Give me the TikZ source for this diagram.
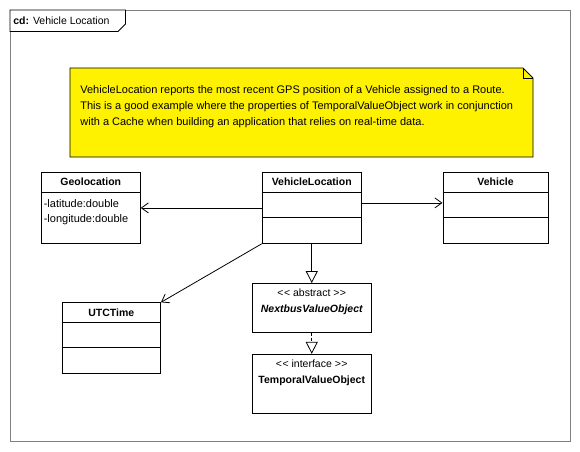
\documentclass[tikz,border=0pt]{standalone}
\usepackage{fontspec}
\setmainfont{Liberation Sans}
\usepackage{tikz}
\usetikzlibrary{positioning,%
  arrows.meta}

\begin{document}
\begin{tikzpicture}
                    [x=1pt, y=-1pt,
                    cls/.style={rectangle,
                        draw, fill=white,
                        inner sep=0pt, anchor=north west},
                    title/.style={font=\fontsize{10.5}{13}\selectfont\bfseries},
                    attr/.style={anchor=west, inner sep=0pt,
                        font=\fontsize{11}{13}\selectfont},
                    assoc/.style={-{Straight Barb[length=7pt,width=10pt]}},
                    inherit/.style={-{Triangle[open,length=12pt,width=12pt]}},
                    realize/.style={inherit, dash pattern=on 3pt off 2pt},
                    thick, font=\fontsize{10.5}{13}\selectfont]

                    \useasboundingbox (0,0) rectangle (580,451);
                    \draw[gray] (10,10) rectangle (570,441);
                    \draw[fill=white] (10,10) -- (125.5,10) -- (125.5,24)
                        -- (118,31.5) -- (10,31.5) -- cycle;
                    \node[anchor=west, inner sep=0pt] (tab) at (13,20.5)
                        {\textbf{cd:} Vehicle Location};

                    \draw[fill=yellow] (70,68) -- (523,68) -- (533,78)
                        -- (533,157) -- (70,157) -- cycle;
                    \draw (523,68) -- (523,78) -- (533,78);
                    \node[anchor=north west, align=left, inner sep=0pt,
                        font=\fontsize{11}{15.7}\selectfont] (notetext) at (80,85.5)
                        {VehicleLocation reports the most recent GPS position of a Vehicle assigned to a Route.\\
                         This is a good example where the properties of TemporalValueObject work in conjunction\\
                         with a Cache when building an application that relies on real-time data.};

                    \node[cls, minimum width=99.3pt, minimum height=71pt] (vl)
                        at (261.7,172) {};
                    \node[cls, minimum width=99pt, minimum height=71pt,
                        left=121pt of vl] (geo) {};
                    \node[cls, minimum width=105.3pt, minimum height=71pt,
                        right=80.7pt of vl] (veh) {};
                    \node[cls, minimum width=98.5pt, minimum height=71pt] (utc)
                        at (61.7,302.3) {};
                    \node[cls, minimum width=119.6pt, minimum height=48.7pt,
                        below=39.3pt of vl] (nvo) {};
                    \node[cls, minimum width=119.6pt, minimum height=59.5pt,
                        below=21.3pt of nvo] (tvo) {};

                    \node[title] (geoname) at ([yshift=-10pt]geo.north) {Geolocation};
                    \node[title] (vlname) at ([yshift=-10pt]vl.north) {VehicleLocation};
                    \node[title] (vehname) at ([yshift=-10pt]veh.north) {Vehicle};
                    \node[title] (utcname) at ([yshift=-10pt]utc.north) {UTCTime};

                    \foreach \c in {geo,vl,veh,utc}
                        \draw ([yshift=-20pt]\c.north west) -- ([yshift=-20pt]\c.north east);
                    \foreach \c in {vl,veh,utc}
                        \draw ([yshift=-45pt]\c.north west) -- ([yshift=-45pt]\c.north east);

                    \node[attr] (lat) at ([xshift=2.5pt,yshift=-31.5pt]geo.north west)
                        {-latitude:double};
                    \node[attr] (lon) at ([xshift=2.5pt,yshift=-48pt]geo.north west)
                        {-longitude:double};

                    \node (nvostereo) at ([yshift=-10pt]nvo.north) {<\kern0.5pt< abstract >\kern0.5pt>};
                    \node[title] (nvoname) at ([yshift=-27pt]nvo.north)
                        {\itshape NextbusValueObject};
                    \node (tvostereo) at ([yshift=-10pt]tvo.north) {<\kern0.5pt< interface >\kern0.5pt>};
                    \node[title] (tvoname) at ([yshift=-27pt]tvo.north) {TemporalValueObject};

                    \draw[assoc] (vl.west) -- (geo.east);
                    \draw[assoc] ([yshift=5pt]vl.east) -- ([yshift=5pt]veh.west);
                    \draw[assoc] (vl.south west) -- (utc.north east);
                    \draw[inherit] (vl.south) -- (nvo.north);
                    \draw[realize] (nvo.south) -- (tvo.north);
                \end{tikzpicture}
\end{document}
